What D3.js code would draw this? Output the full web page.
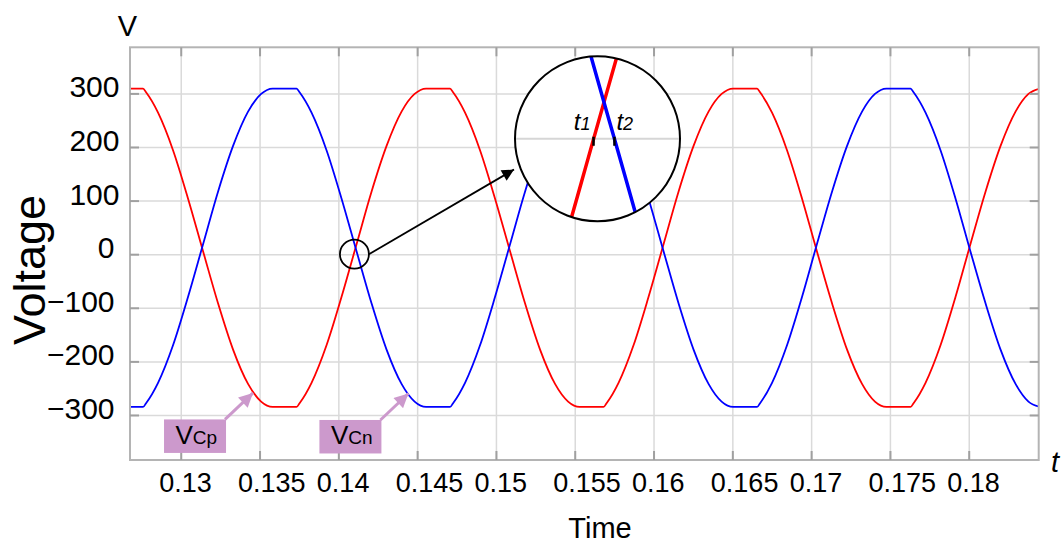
<!DOCTYPE html>
<html>
<head>
<meta charset="utf-8">
<script src="https://cdn.jsdelivr.net/npm/d3@7"></script>
<style>
body { margin: 0; background: #fff; }
svg { font-family: "Liberation Sans", Arial, sans-serif; }
</style>
</head>
<body>
<script>
//sample times (s), shared by both capacitor voltages
var time = [0.12608,
    0.12761, 0.12780, 0.12856, 0.12951, 0.13046, 0.13142, 0.13237, 0.13332, 0.13427, 0.13510, 0.13583,
    0.13735, 0.13754, 0.13830, 0.13925, 0.14020, 0.14116, 0.14211, 0.14306, 0.14401, 0.14484, 0.14557,
    0.14709, 0.14728, 0.14804, 0.14899, 0.14994, 0.15090, 0.15185, 0.15280, 0.15375, 0.15458, 0.15531,
    0.15683, 0.15702, 0.15778, 0.15873, 0.15968, 0.16064, 0.16159, 0.16254, 0.16349, 0.16432, 0.16505,
    0.16657, 0.16676, 0.16752, 0.16847, 0.16942, 0.17037, 0.17133, 0.17228, 0.17323, 0.17405, 0.17478,
    0.17631, 0.17650, 0.17726, 0.17821, 0.17916, 0.18011, 0.18107, 0.18202, 0.18297, 0.18379, 0.18452];

//VCp (red)
var vcp = [309,
    309, 302, 264, 194, 104, 5, -92, -178, -242, -275, -285,
    -285, -278, -240, -170, -80, 19, 117, 202, 266, 299, 309,
    309, 302, 264, 194, 104, 5, -92, -178, -242, -275, -285,
    -285, -278, -240, -170, -80, 19, 117, 202, 266, 299, 309,
    309, 302, 264, 194, 104, 5, -92, -178, -242, -275, -285,
    -285, -278, -240, -170, -80, 19, 117, 202, 266, 299, 309];

//VCn (blue)
var vcn = [-285,
    -285, -278, -240, -170, -80, 19, 117, 202, 266, 299, 309,
    309, 302, 264, 194, 104, 5, -92, -178, -242, -275, -285,
    -285, -278, -240, -170, -80, 19, 117, 202, 266, 299, 309,
    309, 302, 264, 194, 104, 5, -92, -178, -242, -275, -285,
    -285, -278, -240, -170, -80, 19, 117, 202, 266, 299, 309,
    309, 302, 264, 194, 104, 5, -92, -178, -242, -275, -285];

var xTicks = [0.13, 0.135, 0.14, 0.145, 0.15, 0.155, 0.16, 0.165, 0.17, 0.175, 0.18];
var xTickLabels = ["0.13", "0.135", "0.14", "0.145", "0.15", "0.155", "0.16", "0.165", "0.17", "0.175", "0.18"];
var yTicks = [-300, -200, -100, 0, 100, 200, 300];
var yTickLabels = ["\u2212300", "\u2212200", "\u2212100", "0", "100", "200", "300"];

//curve labels: text and the point their arrow points at
var labelNames = ["Cp", "Cn"];
var labelTimes = [0.13465, 0.14451];
var labelVolts = [-257, -258];

//point magnified in the inset (t, V)
var zoomAt = [0.14102, 0];

var width = 1064,
    height = 544;
var plot = {left: 130, top: 47.3, right: 1038.7, bottom: 460};
var inset = {cx: 597.5, cy: 138.8, r: 82.5, small: 14.5};

var svg = d3.select("body").append("svg")
    .attr("width", width)
    .attr("height", height);

var x = d3.scaleLinear().domain([0.12678, 0.18444]).range([plot.left, plot.right]);
var y = d3.scaleLinear().domain([-384, 386]).range([plot.bottom, plot.top]);

var defs = svg.append("defs");
defs.append("clipPath").attr("id", "plotClip")
    .append("rect")
    .attr("x", plot.left).attr("y", plot.top)
    .attr("width", plot.right - plot.left).attr("height", plot.bottom - plot.top);
defs.append("clipPath").attr("id", "insetClip")
    .append("circle").attr("cx", inset.cx).attr("cy", inset.cy).attr("r", inset.r);

function addArrow(id, color, w, h){
    defs.append("marker")
        .attr("id", id)
        .attr("viewBox", "0 0 10 10")
        .attr("refX", 10).attr("refY", 5)
        .attr("markerUnits", "userSpaceOnUse")
        .attr("markerWidth", w).attr("markerHeight", h)
        .attr("orient", "auto")
        .append("path").attr("d", "M0,0L10,5L0,10z").attr("fill", color);
}
addArrow("arrowBlack", "#000", 15, 12);
addArrow("arrowPurple", "#cc99cc", 15, 14);

//gridlines
svg.append("g")
    .attr("transform", "translate(0," + plot.bottom + ")")
    .call(d3.axisBottom(x).tickValues(xTicks).tickSize(-(plot.bottom - plot.top)).tickFormat(""))
    .call(function(g){ g.select(".domain").remove(); })
    .selectAll("line").attr("stroke", "#dadada").attr("stroke-width", 1.5);
svg.append("g")
    .attr("transform", "translate(" + plot.left + ",0)")
    .call(d3.axisLeft(y).tickValues(yTicks).tickSize(-(plot.right - plot.left)).tickFormat(""))
    .call(function(g){ g.select(".domain").remove(); })
    .selectAll("line").attr("stroke", "#dadada").attr("stroke-width", 1.5);

//curves
var line = d3.line()
    .x(function(d, i){ return x(time[i]); })
    .y(function(d){ return y(d); })
    .curve(d3.curveMonotoneX);

var curves = svg.append("g").attr("clip-path", "url(#plotClip)");
curves.append("path").datum(vcp)
    .attr("d", line).attr("fill", "none").attr("stroke", "#ff0000").attr("stroke-width", 1.8);
curves.append("path").datum(vcn)
    .attr("d", line).attr("fill", "none").attr("stroke", "#0000ff").attr("stroke-width", 1.8);

//frame
svg.append("rect")
    .attr("x", plot.left).attr("y", plot.top)
    .attr("width", plot.right - plot.left).attr("height", plot.bottom - plot.top)
    .attr("fill", "none").attr("stroke", "#b4b4b4").attr("stroke-width", 2);

//tick marks on all four sides, labels on bottom and left
function styleTicks(g){
    g.select(".domain").remove();
    g.selectAll("line").attr("stroke", "#a0a0a0").attr("stroke-width", 2);
}
var xAxis = svg.append("g")
    .attr("transform", "translate(0," + plot.bottom + ")")
    .call(d3.axisBottom(x).tickValues(xTicks).tickSize(-9)
        .tickFormat(function(d, i){ return xTickLabels[i]; }))
    .call(styleTicks);
xAxis.selectAll("text")
    .attr("text-anchor", "start")
    .attr("x", -22).attr("y", 31.7).attr("dy", 0)
    .attr("fill", "#000")
    .style("font-size", "27px");

var yAxis = svg.append("g")
    .attr("transform", "translate(" + plot.left + ",0)")
    .call(d3.axisLeft(y).tickValues(yTicks).tickSize(-9)
        .tickFormat(function(d, i){ return yTickLabels[i]; }))
    .call(styleTicks);
yAxis.selectAll("text")
    .attr("text-anchor", "end")
    .attr("x", function(d){ return d > 0 ? -10.5 : -15.5; })
    .attr("y", 3.5).attr("dy", 0)
    .attr("fill", "#000")
    .style("font-size", "30px");

svg.append("g")
    .attr("transform", "translate(0," + plot.top + ")")
    .call(d3.axisTop(x).tickValues(xTicks).tickSize(-9).tickFormat(""))
    .call(styleTicks);
svg.append("g")
    .attr("transform", "translate(" + plot.right + ",0)")
    .call(d3.axisRight(y).tickValues(yTicks).tickSize(-9).tickFormat(""))
    .call(styleTicks);

//axis titles
svg.append("text").attr("x", 127.5).attr("y", 36).attr("text-anchor", "middle")
    .style("font-size", "29px").text("V");
svg.append("text").attr("x", 1051).attr("y", 472)
    .style("font-size", "29px").style("font-style", "italic").text("t");
svg.append("text").attr("x", 600).attr("y", 538).attr("text-anchor", "middle")
    .style("font-size", "29px").text("Time");
svg.append("text")
    .attr("transform", "translate(45,270) rotate(-90)")
    .attr("text-anchor", "middle")
    .style("font-size", "45px").text("Voltage");

//magnifier: small circle, arrow, big circle
var sx = x(zoomAt[0]), sy = y(zoomAt[1]);
svg.append("circle").attr("cx", sx).attr("cy", sy).attr("r", inset.small)
    .attr("fill", "none").attr("stroke", "#000").attr("stroke-width", 1.8);
svg.append("line")
    .attr("x1", sx + inset.small).attr("y1", sy)
    .attr("x2", inset.cx - 83.5).attr("y2", inset.cy + 30.7)
    .attr("stroke", "#000").attr("stroke-width", 1.8)
    .attr("marker-end", "url(#arrowBlack)");

var xi = d3.scaleLinear()
    .domain([x.invert(sx - inset.small), x.invert(sx + inset.small)])
    .range([inset.cx - inset.r, inset.cx + inset.r]);
var yi = d3.scaleLinear()
    .domain([y.invert(sy + inset.small), y.invert(sy - inset.small)])
    .range([inset.cy + inset.r, inset.cy - inset.r]);

svg.append("circle").attr("cx", inset.cx).attr("cy", inset.cy).attr("r", inset.r)
    .attr("fill", "#fff");
var zoomG = svg.append("g").attr("clip-path", "url(#insetClip)");
zoomG.append("line")
    .attr("x1", inset.cx - inset.r).attr("x2", inset.cx + inset.r)
    .attr("y1", yi(0)).attr("y2", yi(0))
    .attr("stroke", "#d6d6d6").attr("stroke-width", 2);

var lineZoom = d3.line()
    .x(function(d, i){ return xi(time[i]); })
    .y(function(d){ return yi(d); })
    .curve(d3.curveMonotoneX);
zoomG.append("path").datum(vcp)
    .attr("d", lineZoom).attr("fill", "none").attr("stroke", "#ff0000").attr("stroke-width", 3.5);
zoomG.append("path").datum(vcn)
    .attr("d", lineZoom).attr("fill", "none").attr("stroke", "#0000ff").attr("stroke-width", 3.5);

//zero crossing nearest to the magnified point
function crossing(vals){
    var best = null;
    for (var i = 0; i < vals.length - 1; i++){
        if ((vals[i] <= 0) != (vals[i + 1] <= 0)){
            var tc = time[i] + (time[i + 1] - time[i]) * (0 - vals[i]) / (vals[i + 1] - vals[i]);
            if (best === null || Math.abs(tc - zoomAt[0]) < Math.abs(best - zoomAt[0])) best = tc;
        }
    }
    return best;
}
var crossT = [crossing(vcp), crossing(vcn)];
crossT.forEach(function(tc, i){
    var cx = xi(tc);
    zoomG.append("line")
        .attr("x1", cx).attr("x2", cx)
        .attr("y1", yi(0) - 2).attr("y2", yi(0) + 7)
        .attr("stroke", "#000").attr("stroke-width", 2.5);
    var lab = svg.append("text")
        .attr("x", i == 0 ? cx - 3 : cx + 2)
        .attr("y", inset.cy - 8.5)
        .attr("text-anchor", i == 0 ? "end" : "start")
        .style("font-size", "24px").style("font-style", "italic");
    lab.append("tspan").text("t");
    lab.append("tspan").style("font-size", "18px").text(i + 1);
});

svg.append("circle").attr("cx", inset.cx).attr("cy", inset.cy).attr("r", inset.r)
    .attr("fill", "none").attr("stroke", "#000").attr("stroke-width", 2);

//curve labels
labelNames.forEach(function(name, i){
    var tx = x(labelTimes[i]), ty = y(labelVolts[i]);
    var g = svg.append("g").attr("transform", "translate(" + tx + "," + ty + ")");
    g.append("line")
        .attr("x1", -29).attr("y1", 27.5).attr("x2", -1).attr("y2", 1)
        .attr("stroke", "#cc99cc").attr("stroke-width", 3)
        .attr("marker-end", "url(#arrowPurple)");
    g.append("rect")
        .attr("x", -90).attr("y", 27.5).attr("width", 62).attr("height", 33.5)
        .attr("fill", "#cc99cc");
    var t = g.append("text").attr("x", -78.5).attr("y", 52);
    t.append("tspan").style("font-size", "26px").text("V");
    t.append("tspan").style("font-size", "19px").text(name);
});
</script>
</body>
</html>
